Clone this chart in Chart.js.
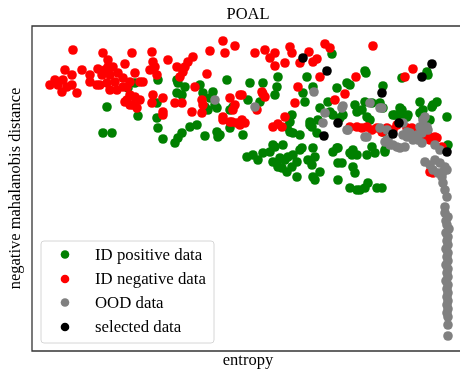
<!DOCTYPE html>
<html>
<head>
<meta charset="utf-8">
<script src="https://cdn.jsdelivr.net/npm/chart.js@4/dist/chart.umd.min.js"></script>
<style>
  html, body { margin: 0; padding: 0; background: #fff; overflow: hidden; }
</style>
</head>
<body>
<canvas id="poal" width="460" height="377"></canvas>
<script>
// entropy (x) vs negative mahalanobis distance (y), arbitrary units
const entropyRange = [0, 428];
const distanceRange = [0, 325];

const idPositive = [
  [126,271],[145,271],[146,268],[153,264],[145,258],[150,256],[168,266],[171,258],[181,259],[178,253],
  [183,246],[176,241],[173,244],[185,243],[195,271],[75,244],[96,263],[103,268],[106,235],[125,248],
  [125,233],[126,223],[71,218],[80,218],[131,212],[143,208],[146,213],[150,218],[158,224],[165,226],
  [173,215],[185,219],[186,214],[198,223],[211,216],[198,241],[201,244],[218,268],[216,251],[300,297],
  [246,274],[275,274],[231,268],[245,264],[243,256],[271,258],[281,264],[305,263],[315,268],[318,266],
  [333,280],[334,278],[351,265],[395,279],[396,276],[370,273],[228,249],[273,249],[288,243],[296,249],
  [323,246],[325,239],[333,249],[340,248],[330,241],[348,248],[368,243],[361,236],[375,234],[388,249],
  [405,249],[400,244],[391,241],[415,234],[260,236],[258,229],[255,224],[261,218],[278,229],[280,224],
  [286,231],[268,216],[298,239],[301,236],[308,233],[311,236],[335,234],[338,231],[241,206],[251,206],
  [270,203],[281,203],[306,203],[351,219],[401,246],[388,238],[391,234],[363,236],[370,241],[368,234],
  [376,236],[398,231],[353,201],[350,163],[416,206],[351,243],[215,194],[221,196],[226,191],[231,198],
  [238,199],[243,204],[241,189],[245,188],[246,184],[250,183],[255,179],[253,191],[256,194],[261,196],
  [265,189],[260,184],[248,193],[268,201],[265,174],[276,191],[280,186],[283,194],[281,174],[283,171],
  [288,179],[301,199],[305,203],[306,188],[310,188],[306,171],[318,198],[321,201],[320,196],[325,196],
  [321,184],[323,178],[335,196],[340,204],[343,198],[353,199],[318,163],[325,161],[328,161],[333,163],
  [336,168],[345,163],[258,219],[278,226],[285,218],[188,216]
];

const idNegative = [
  [41,301],[71,298],[100,298],[120,299],[191,310],[203,305],[193,298],[178,300],[136,291],[161,294],
  [156,289],[153,284],[121,289],[123,284],[118,281],[93,287],[76,291],[76,284],[66,282],[73,281],
  [81,284],[70,276],[78,276],[86,278],[91,273],[98,269],[83,269],[75,268],[68,266],[78,261],
  [85,261],[91,264],[95,264],[65,266],[33,281],[40,276],[50,281],[58,276],[58,269],[23,271],
  [18,266],[26,266],[31,271],[30,259],[40,266],[45,258],[35,264],[103,278],[108,269],[111,269],
  [95,251],[98,256],[103,254],[108,251],[101,246],[105,243],[98,246],[93,249],[125,276],[145,284],
  [151,279],[148,274],[175,277],[163,264],[131,253],[121,256],[120,248],[131,239],[131,236],[143,248],
  [150,248],[160,239],[170,251],[171,246],[170,238],[191,234],[191,231],[200,229],[205,228],[208,226],
  [210,231],[198,253],[203,246],[201,241],[208,256],[223,298],[233,301],[243,298],[238,293],[258,304],
  [260,298],[253,288],[243,285],[277,299],[285,292],[281,289],[268,288],[293,307],[298,303],[341,305],
  [324,274],[288,274],[266,264],[313,257],[303,251],[263,248],[231,257],[233,254],[230,259],[225,241],
  [210,256],[253,234],[241,224],[250,224],[246,227],[381,282],[373,274],[198,229],[213,228],[318,224],
  [325,224],[330,223],[335,224],[340,221],[345,223],[350,219],[355,223],[361,221],[365,226],[375,223],
  [380,223],[381,219],[388,216],[391,214],[396,216],[400,213],[398,211],[403,214],[405,213],[410,204],
  [398,179],[401,178]
];

const oodData = [
  [223,244],[282,259],[293,238],[291,228],[311,245],[310,243],[315,221],[338,248],[348,243],[335,214],
  [348,223],[355,221],[355,211],[371,216],[375,214],[381,211],[391,231],[395,224],[393,234],[350,243],
  [371,228],[375,219],[381,213],[386,211],[390,208],[356,211],[361,206],[368,203],[373,204],[403,206],
  [408,201],[393,189],[398,186],[403,191],[408,188],[413,184],[401,181],[406,178],[411,179],[415,181],
  [410,174],[411,168],[413,161],[415,154],[413,144],[316,221],[333,214],[353,209],[358,206],[365,204],
  [378,218],[385,216],[388,224],[391,221],[396,221],[390,218],[183,251],
  [413,138],[416,134],[414,130],[415,126],[417,122],[414,118],[416,114],[415,110],[416,106],[414,102],
  [416,98],[415,94],[416,90],[414,86],[416,82],[415,78],[416,74],[414,70],[416,66],[415,62],
  [416,58],[415,54],[416,50],[415,46],[416,42],[415,38],[416,34],[416,26],[416,15]
];

const selectedData = [
  [271,293],[295,280],[350,258],[400,287],[390,274],[306,228],[292,215],[367,228],[361,217],[415,199]
];

const seriesNames = ['ID positive data', 'ID negative data', 'OOD data', 'selected data'];
const seriesColors = ['#008000', '#ff0000', '#808080', '#000000'];

const toPoints = arr => arr.map(p => ({ x: p[0], y: p[1] }));

const serif = "'Liberation Serif', 'DejaVu Serif', serif";

// axes frame runs off the right edge, so only left/top/bottom are stroked
const decorations = {
  id: 'decorations',
  afterDraw(chart) {
    const { ctx, chartArea: a } = chart;
    ctx.save();
    ctx.strokeStyle = '#333';
    ctx.lineWidth = 1.3;
    ctx.beginPath();
    ctx.moveTo(chart.width, a.top);
    ctx.lineTo(a.left, a.top);
    ctx.lineTo(a.left, a.bottom);
    ctx.lineTo(chart.width, a.bottom);
    ctx.stroke();

    ctx.fillStyle = '#000';
    ctx.font = '16.5px ' + serif;
    ctx.textAlign = 'center';
    ctx.textBaseline = 'alphabetic';
    const cx = 248;
    ctx.fillText('POAL', cx, 19);
    ctx.fillText('entropy', cx, 365);

    ctx.save();
    ctx.translate(20, (a.top + a.bottom) / 2);
    ctx.rotate(-Math.PI / 2);
    ctx.fillText('negative mahalanobis distance', 0, 0);
    ctx.restore();

    // legend box
    const bx = 41, by = 241, bw = 173, bh = 102, r = 3;
    ctx.beginPath();
    ctx.moveTo(bx + r, by);
    ctx.arcTo(bx + bw, by, bx + bw, by + bh, r);
    ctx.arcTo(bx + bw, by + bh, bx, by + bh, r);
    ctx.arcTo(bx, by + bh, bx, by, r);
    ctx.arcTo(bx, by, bx + bw, by, r);
    ctx.closePath();
    ctx.fillStyle = 'rgba(255,255,255,0.8)';
    ctx.fill();
    ctx.strokeStyle = '#d6d6d6';
    ctx.lineWidth = 1;
    ctx.stroke();

    const rows = [254.5, 279, 302.5, 327];
    ctx.font = '16.8px ' + serif;
    chart.data.datasets.forEach((ds, i) => {
      ctx.beginPath();
      ctx.arc(65, rows[i], 4.3, 0, Math.PI * 2);
      ctx.fillStyle = ds.backgroundColor;
      ctx.fill();
      ctx.fillStyle = '#000';
      ctx.textAlign = 'left';
      ctx.textBaseline = 'middle';
      ctx.fillText(ds.label, 95, rows[i] + 1);
    });
    ctx.restore();
  }
};

const sources = [idPositive, idNegative, oodData, selectedData];

new Chart(document.getElementById('poal').getContext('2d'), {
  type: 'scatter',
  data: {
    datasets: sources.map((src, i) => ({
      label: seriesNames[i],
      data: toPoints(src),
      backgroundColor: seriesColors[i],
      borderWidth: 0,
      pointRadius: 4.8,
      pointHoverRadius: 4.8,
      order: sources.length - i
    }))
  },
  options: {
    responsive: false,
    animation: false,
    devicePixelRatio: 1,
    layout: { autoPadding: false, padding: { left: 32, top: 26, right: 0, bottom: 26 } },
    scales: {
      x: { type: 'linear', display: false, min: entropyRange[0], max: entropyRange[1] },
      y: { type: 'linear', display: false, min: distanceRange[0], max: distanceRange[1] }
    },
    plugins: {
      legend: { display: false },
      tooltip: { enabled: false }
    }
  },
  plugins: [decorations]
});
</script>
</body>
</html>
